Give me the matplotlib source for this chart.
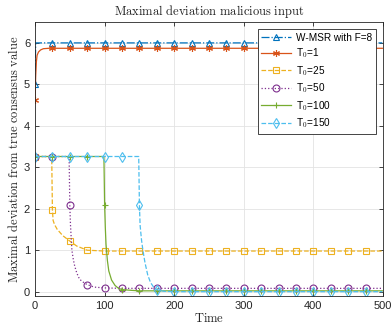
import matplotlib
matplotlib.use('Agg')
import numpy as np
from matplotlib import pyplot as plt

plt.rcParams['font.family'] = ['Liberation Sans', 'DejaVu Sans']
plt.rcParams['mathtext.fontset'] = 'cm'

# values (time, deviation)
t_wmsr = [0, 1, 25, 50, 75, 100, 125, 150, 175, 200, 225, 250, 275, 300, 325, 350, 375, 400, 425, 450, 475, 499]
y_wmsr = [5.0, 6.0, 6.0, 6.0, 6.0, 6.0, 6.0, 6.0, 6.0, 6.0, 6.0, 6.0, 6.0, 6.0, 6.0, 6.0, 6.0, 6.0, 6.0, 6.0, 6.0, 6.0]

t_t1 = [0, 1, 2, 3, 5, 8, 12, 20, 25, 50, 75, 100, 125, 150, 175, 200, 225, 250, 275, 300, 325, 350, 375, 400, 425, 450, 475, 499]
y_t1 = [4.62, 5.2, 5.55, 5.7, 5.78, 5.83, 5.86, 5.87, 5.87, 5.87, 5.87, 5.87, 5.87, 5.87, 5.87, 5.87, 5.87, 5.87, 5.87, 5.87,
        5.87, 5.87, 5.87, 5.87, 5.87, 5.87, 5.87, 5.87]

t_t25 = [0, 24, 25, 26, 28, 32, 40, 50, 60, 75, 100, 125, 150, 175, 200, 225, 250, 275, 300, 325, 350, 375, 400, 425, 450, 475, 499]
y_t25 = [3.26, 3.26, 1.98, 1.72, 1.62, 1.5, 1.35, 1.22, 1.1, 1.0, 0.98, 0.98, 0.98, 0.98, 0.98, 0.98, 0.98, 0.98, 0.98, 0.98,
         0.98, 0.98, 0.98, 0.98, 0.98, 0.98, 0.98]

t_t50 = [0, 25, 49, 50, 51, 53, 55, 57, 60, 64, 70, 75, 85, 100, 125, 150, 175, 200, 225, 250, 275, 300, 325, 350, 375, 400,
         425, 450, 475, 499]
y_t50 = [3.26, 3.26, 3.26, 2.08, 1.6, 1.0, 0.78, 0.62, 0.45, 0.3, 0.22, 0.17, 0.11, 0.09, 0.08, 0.08, 0.08, 0.08, 0.08, 0.08,
         0.08, 0.08, 0.08, 0.08, 0.08, 0.08, 0.08, 0.08, 0.08, 0.08]

t_t100 = [0, 25, 50, 75, 99, 100, 101, 102, 104, 106, 110, 115, 120, 125, 140, 150, 175, 200, 225, 250, 275, 300, 325, 350,
          375, 400, 425, 450, 475, 499]
y_t100 = [3.26, 3.26, 3.26, 3.26, 3.26, 2.1, 1.55, 1.15, 0.75, 0.5, 0.28, 0.15, 0.08, 0.05, 0.03, 0.02, 0.02, 0.02, 0.02, 0.02,
          0.02, 0.02, 0.02, 0.02, 0.02, 0.02, 0.02, 0.02, 0.02, 0.02]

t_t150 = [0, 25, 50, 75, 100, 125, 149, 150, 151, 153, 155, 158, 162, 166, 170, 175, 185, 200, 225, 250, 275, 300, 325, 350,
          375, 400, 425, 450, 475, 499]
y_t150 = [3.26, 3.26, 3.26, 3.26, 3.26, 3.26, 3.26, 2.1, 1.6, 1.25, 1.0, 0.7, 0.4, 0.22, 0.12, 0.05, 0.01, 0.0, 0.0, 0.0,
          0.0, 0.0, 0.0, 0.0, 0.0, 0.0, 0.0, 0.0, 0.0, 0.0]

labels = ['W-MSR with F=8', r'T$_\mathsf{0}$=1', r'T$_\mathsf{0}$=25', r'T$_\mathsf{0}$=50',
          r'T$_\mathsf{0}$=100', r'T$_\mathsf{0}$=150']
series = [(t_wmsr, y_wmsr), (t_t1, y_t1), (t_t25, y_t25), (t_t50, y_t50), (t_t100, y_t100), (t_t150, y_t150)]
colors = ['#0072BD', '#D95319', '#EDB120', '#7E2F8E', '#77AC30', '#4DBEEE']
styles = ['-.', '-', '--', ':', '-', '--']
markers = ['^', (6, 2, 0), 's', 'o', '+', 'd']

fig = plt.figure(figsize=(3.92, 3.25), dpi=100)
ax = fig.add_axes([0.0893, 0.0898, 0.8878, 0.842])

for (t, y), lab, c, ls, mk in zip(series, labels, colors, styles, markers):
    t = np.asarray(t)
    idx = [i for i, v in enumerate(t) if v % 25 == 0 and v < 500]
    ax.plot(t, y, ls, color=c, marker=mk, markevery=idx, markersize=5,
            markerfacecolor='none', markeredgewidth=0.8, linewidth=0.9, label=lab)

ax.set_xlim(0, 500)
ax.set_ylim(-0.1, 6.5)
ax.set_xticks(range(0, 501, 100))
ax.set_yticks(range(0, 7))
ax.grid(True, color='#e3e3e3', linewidth=0.6)
ax.set_axisbelow(True)
ax.tick_params(direction='in', length=3, labelsize=8, colors='#262626', top=True, right=True,
               width=0.6)
for s in ax.spines.values():
    s.set_color('#262626')
    s.set_linewidth(0.6)

ax.set_title(r'$\mathrm{Maximal\ deviation\ malicious\ input}$', fontsize=9, color='#222222', pad=5)
ax.set_xlabel(r'$\mathrm{Time}$', fontsize=9, color='#222222', labelpad=1)
ax.set_ylabel(r'$\mathrm{Maximal\ deviation\ from\ true\ consensus\ value}$', fontsize=9,
              color='#222222', labelpad=2)

leg = ax.legend(loc='upper right', fontsize=7.2, fancybox=False, framealpha=1,
                edgecolor='#262626', handlelength=3.0, handletextpad=0.5, borderpad=0.35,
                borderaxespad=0.7, labelspacing=0.38)
leg.get_frame().set_linewidth(0.6)

plt.savefig('out.png', dpi=100)
